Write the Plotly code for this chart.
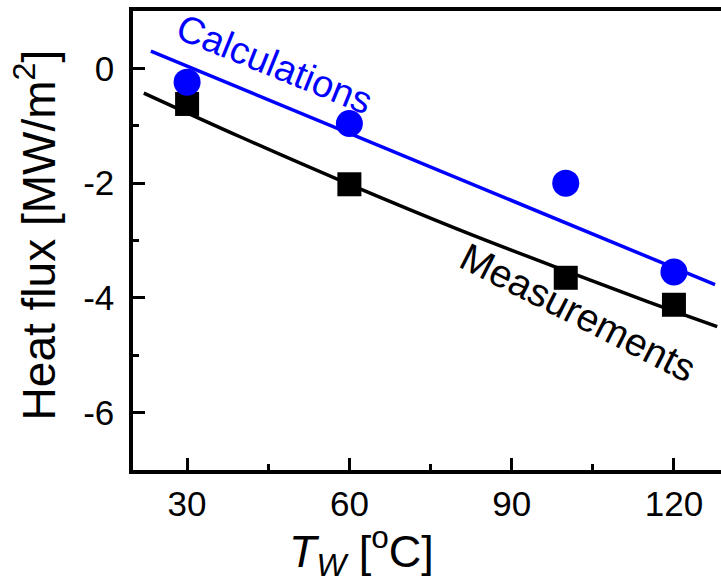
import plotly.graph_objects as go

# Data
temps = [30, 60, 100, 120]
measured = [-0.62, -2.02, -3.65, -4.12]
calculated = [-0.24, -0.96, -2.00, -3.55]

# Fit curves
calc_fit_x = [23.3, 127.6]
calc_fit_y = [0.30, -3.77]
meas_fit_x = [22, 40, 60, 80, 100, 115, 128]
meas_fit_y = [-0.43, -1.20, -2.02, -2.80, -3.53, -4.06, -4.50]

x_tick_vals = [30, 60, 90, 120]
y_tick_vals = [0, -2, -4, -6]
y_tick_text = ["0", "-2", "-4", "-6"]

FONT = "Liberation Sans, Arial, sans-serif"
BLUE = "#0000ff"

fig = go.Figure()
fig.add_trace(go.Scatter(x=calc_fit_x, y=calc_fit_y, mode="lines",
                         line=dict(color=BLUE, width=3.5), showlegend=False))
fig.add_trace(go.Scatter(x=meas_fit_x, y=meas_fit_y, mode="lines",
                         line=dict(color="black", width=3.5, shape="spline"), showlegend=False))
fig.add_trace(go.Scatter(x=temps, y=measured, mode="markers",
                         marker=dict(symbol="square", size=24, color="black"), showlegend=False))
fig.add_trace(go.Scatter(x=temps, y=calculated, mode="markers",
                         marker=dict(symbol="circle", size=27, color=BLUE), showlegend=False))

fig.add_annotation(x=46.1, y=0.07, xref="x", yref="y", text="Calculations",
                   showarrow=False, textangle=22,
                   font=dict(family=FONT, size=38, color=BLUE))
fig.add_annotation(x=102.3, y=-4.26, xref="x", yref="y", text="Measurements",
                   showarrow=False, textangle=27,
                   font=dict(family=FONT, size=39, color="black"))

# Axis titles
fig.add_annotation(x=0.389, y=-0.176, xref="paper", yref="paper",
                   text="<i>T<sub>W</sub></i> [<sup>o</sup>C]", showarrow=False,
                   xanchor="center", yanchor="middle",
                   font=dict(family=FONT, size=45, color="black"))
fig.add_annotation(x=-0.166, y=0.512, xref="paper", yref="paper",
                   text="Heat flux [MW/m<sup>2</sup>]", showarrow=False, textangle=-90,
                   xanchor="center", yanchor="middle",
                   font=dict(family=FONT, size=46, color="black"))

fig.update_layout(
    width=721, height=587,
    margin=dict(l=133, r=0, t=11, b=117),
    plot_bgcolor="white", paper_bgcolor="white",
    font=dict(family=FONT, size=35, color="black"),
)
fig.update_xaxes(
    range=[20, 128.7], tickvals=x_tick_vals,
    showline=True, linecolor="black", linewidth=3.5, mirror=True,
    ticks="inside", ticklen=12, tickwidth=3, tickcolor="black",
    minor=dict(ticks="inside", ticklen=6, tickwidth=3, tickcolor="black", dtick=15, tick0=0),
    showgrid=False, zeroline=False, automargin=False,
    tickfont=dict(size=35), ticklabelstandoff=0,
)
fig.update_yaxes(
    range=[-7, 1], tickvals=y_tick_vals, ticktext=y_tick_text,
    showline=True, linecolor="black", linewidth=3.5, mirror=False,
    ticks="inside", ticklen=12, tickwidth=3, tickcolor="black",
    minor=dict(ticks="inside", ticklen=6, tickwidth=3, tickcolor="black", dtick=1, tick0=0),
    showgrid=False, zeroline=False, automargin=False,
    tickfont=dict(size=35), ticklabelstandoff=8,
)

fig.write_html("out.html", config={"displayModeBar": False},
               post_script="document.body.style.margin='0';")
